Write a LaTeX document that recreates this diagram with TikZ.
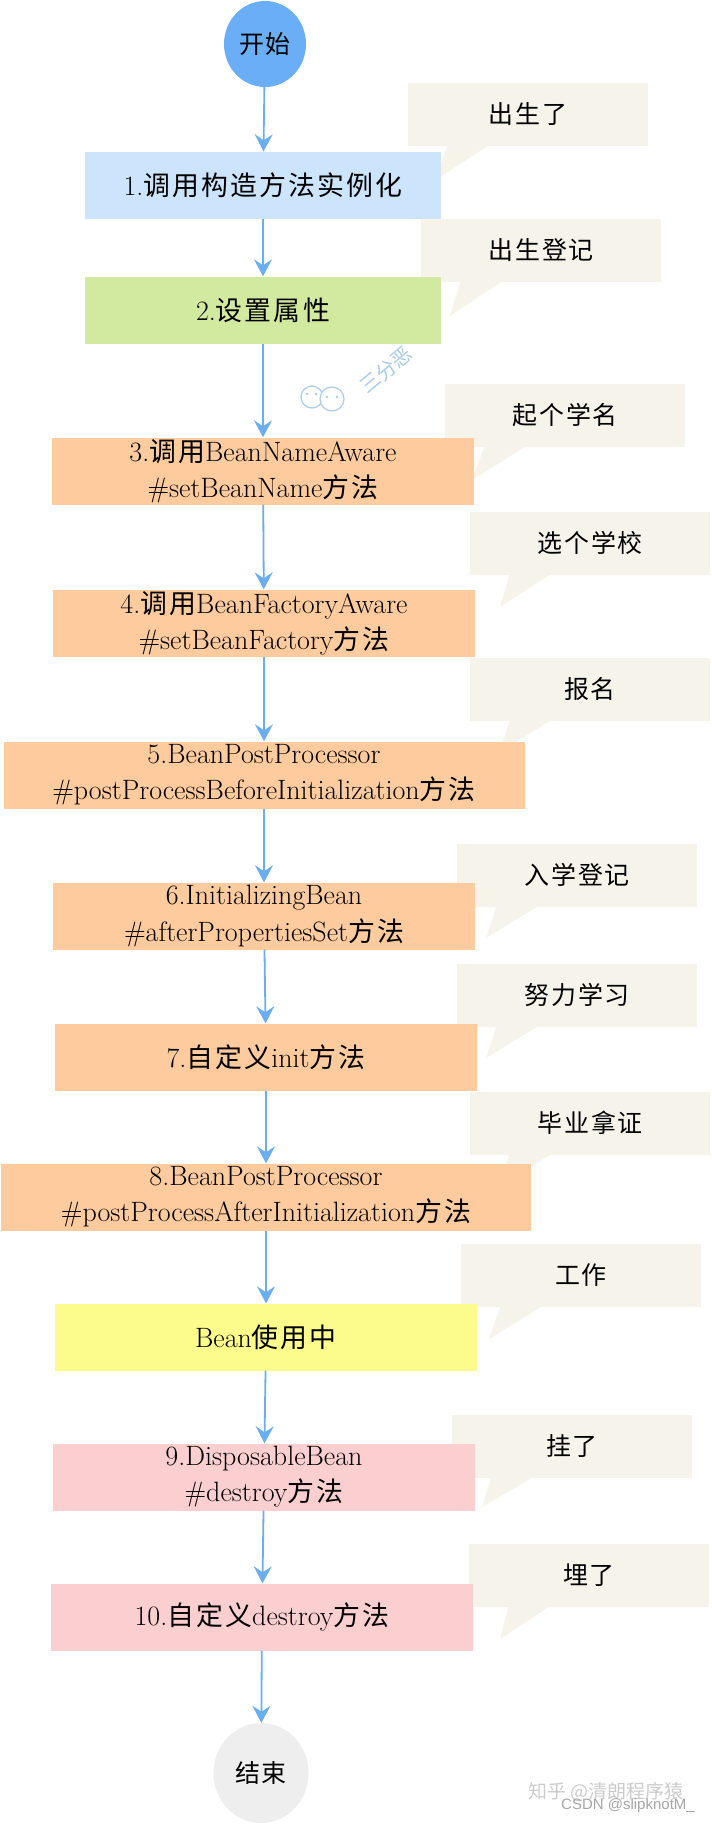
\documentclass[tikz,border=0pt]{standalone}
\usepackage{fontspec}
\newfontfamily\cjk[Scale=0.96,LetterSpace=8]{Noto Sans CJK SC}
\newfontfamily\cjkplain{Noto Sans CJK SC}
\newfontfamily\wmsans{Liberation Sans}
\usetikzlibrary{arrows.meta,shapes.geometric,calc}
\newcommand{\zhs}[1]{{\cjk #1}}

\definecolor{arrowblue}{HTML}{6AAEF0}
\definecolor{startblue}{HTML}{6AAEF7}
\definecolor{endgray}{HTML}{EEEEEE}
\definecolor{bluebox}{HTML}{CCE4FC}
\definecolor{greenbox}{HTML}{D2E9A0}
\definecolor{orangebox}{HTML}{FDCB9E}
\definecolor{yellowbox}{HTML}{FCFC8C}
\definecolor{pinkbox}{HTML}{FBCFCF}
\definecolor{callfill}{HTML}{F5F3EA}
\definecolor{wmblue}{HTML}{A9CCEA}

\begin{document}
\begin{tikzpicture}[x=1pt,y=-1pt,
  stepbox/.style={rectangle, inner sep=0pt, align=center, minimum height=67pt,
    font=\fontsize{28}{36}\selectfont, text=black},
  callout/.style={rectangle, fill=callfill, minimum width=240pt, minimum height=63pt,
    inner sep=0pt, font=\fontsize{26}{30}\selectfont\cjk},
  tail/.style={fill=callfill},
  flow/.style={draw=arrowblue, line width=1.8pt, -{Stealth[length=17pt,width=18pt,inset=6pt]}},
  terminal/.style={ellipse, inner sep=0pt, font=\fontsize{26}{30}\selectfont\cjk}
]
\useasboundingbox (0,0) rectangle (712,1824);
\fill[white] (0,0) rectangle (712,1824);

% ---------- callouts (behind) ----------
\node[callout] (c1)  at (528,114)  {出生了};
\node[callout] (c2)  at (541,250)  {出生登记};
\node[callout] (c3)  at (565,415)  {起个学名};
\node[callout] (c4)  at (590,543)  {选个学校};
\node[callout] (c5)  at (590,689)  {报名};
\node[callout] (c6)  at (577,875)  {入学登记};
\node[callout] (c7)  at (577,995)  {努力学习};
\node[callout] (c8)  at (590,1123) {毕业拿证};
\node[callout] (c9)  at (581,1275) {工作};
\node[callout] (c10) at (572,1446) {挂了};
\node[callout] (c11) at (589,1575) {埋了};

\coordinate (t1)  at (435,180);
\coordinate (t2)  at (450,316);
\coordinate (t3)  at (472,480);
\coordinate (t4)  at (500,607);
\coordinate (t5)  at (500,752);
\coordinate (t6)  at (486,938);
\coordinate (t7)  at (486,1058);
\coordinate (t8)  at (498,1187);
\coordinate (t9)  at (489,1339);
\coordinate (t10) at (482,1507);
\coordinate (t11) at (500,1639);

\foreach \i in {1,...,11}{
  \fill[tail] ($(c\i.south west)+(40,-1)$) -- (t\i) -- ($(c\i.south west)+(82,-1)$) -- cycle;
}

% ---------- flow nodes ----------
\node[terminal, fill=startblue, minimum width=82pt, minimum height=86pt] (start) at (265,44) {开始};
\node[stepbox, fill=bluebox,   minimum width=356pt] (b1) at (263,185) {1.\zhs{调用构造方法实例化}};
\node[stepbox, fill=greenbox,  minimum width=356pt] (b2) at (263,310) {2.\zhs{设置属性}};
\node[stepbox, fill=orangebox, minimum width=422pt] (b3) at (263,471) {3.\zhs{调用}BeanNameAware\\\#setBeanName\zhs{方法}};
\node[stepbox, fill=orangebox, minimum width=422pt] (b4) at (264,623) {4.\zhs{调用}BeanFactoryAware\\\#setBeanFactory\zhs{方法}};
\node[stepbox, fill=orangebox, minimum width=521pt] (b5) at (264,775) {5.BeanPostProcessor\\\#postProcessBeforeInitialization\zhs{方法}};
\node[stepbox, fill=orangebox, minimum width=422pt] (b6) at (264,916) {6.InitializingBean\\\#afterPropertiesSet\zhs{方法}};
\node[stepbox, fill=orangebox, minimum width=422pt] (b7) at (266,1057) {7.\zhs{自定义}init\zhs{方法}};
\node[stepbox, fill=orangebox, minimum width=530pt] (b8) at (266,1197) {8.BeanPostProcessor\\\#postProcessAfterInitialization\zhs{方法}};
\node[stepbox, fill=yellowbox, minimum width=422pt] (bean) at (266,1337) {Bean\zhs{使用中}};
\node[stepbox, fill=pinkbox,   minimum width=422pt] (b9) at (264,1477) {9.DisposableBean\\\#destroy\zhs{方法}};
\node[stepbox, fill=pinkbox,   minimum width=422pt] (b10) at (262,1617) {10.\zhs{自定义}destroy\zhs{方法}};
\node[terminal, fill=endgray, minimum width=95pt, minimum height=100pt] (end) at (261,1773) {结束};

% ---------- connectors ----------
\draw[flow] (start) -- (b1);
\draw[flow] (b1) -- (b2);
\draw[flow] (b2) -- (b3);
\draw[flow] (b3) -- (b4);
\draw[flow] (b4) -- (b5);
\draw[flow] (b5) -- (b6);
\draw[flow] (b6) -- (b7);
\draw[flow] (b7) -- (b8);
\draw[flow] (b8) -- (bean);
\draw[flow] (bean) -- (b9);
\draw[flow] (b9) -- (b10);
\draw[flow] (b10) -- (end);

% ---------- watermarks ----------
\draw[wmblue, line width=1.2pt] (312,397) circle (11);
\draw[wmblue, line width=1.2pt, fill=white] (332,399) circle (12);
\fill[wmblue] (307,394) circle (1.4) (316,394) circle (1.4) (327,397) circle (1.4) (337,397) circle (1.4);
\node[wmblue, rotate=40, font=\fontsize{20}{22}\selectfont\cjkplain] (wm1) at (386,370) {三分恶};
\node[gray!40, font=\fontsize{19}{22}\selectfont\cjkplain] (wm2) at (606,1792) {知乎 @清朗程序猿};
\node[gray!70, font=\fontsize{15}{17}\selectfont\wmsans] (wm3) at (628,1806) {CSDN @slipknotM\_};
\end{tikzpicture}
\end{document}
